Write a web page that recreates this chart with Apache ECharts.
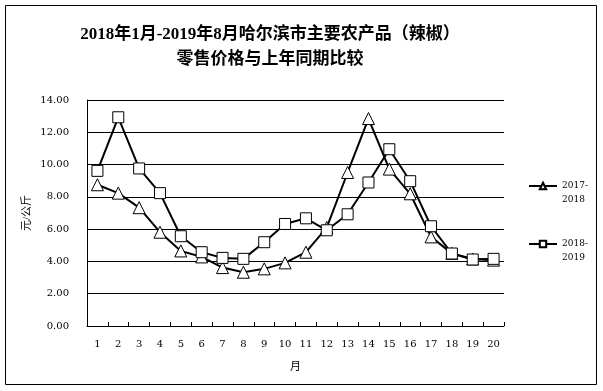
<!DOCTYPE html>
<html>
<head>
<meta charset="utf-8">
<script src="https://cdn.jsdelivr.net/npm/echarts@6/dist/echarts.min.js"></script>
<style>html,body{margin:0;padding:0;background:#fff;}#c{width:603px;height:391px;}</style>
</head>
<body>
<div id="c"></div>
<script>
const months = ['1','2','3','4','5','6','7','8','9','10','11','12','13','14','15','16','17','18','19','20'];
const series2017_2018 = [8.75, 8.23, 7.33, 5.81, 4.65, 4.28, 3.62, 3.33, 3.54, 3.91, 4.57, 6.10, 9.51, 12.85, 9.72, 8.19, 5.52, 4.50, 4.15, 4.08];
const series2018_2019 = [9.61, 12.93, 9.76, 8.23, 5.56, 4.57, 4.22, 4.16, 5.19, 6.32, 6.67, 5.93, 6.92, 8.89, 10.95, 8.97, 6.18, 4.49, 4.12, 4.16];
const seriesNames = ['2017-\n2018', '2018-\n2019'];
const yTicks = { min: 0, max: 14, interval: 2 };

const serif = '"DejaVu Serif", "Liberation Serif", "Noto Sans CJK SC", serif';
const titleFont = '"Liberation Serif", "Noto Sans CJK SC", serif';
const chart = echarts.init(document.getElementById('c'), null, { renderer: 'canvas' });
chart.setOption({
  backgroundColor: '#fff',
  animation: false,
  title: {
    text: '2018年1月-2019年8月哈尔滨市主要农产品（辣椒）\n零售价格与上年同期比较',
    left: 270,
    top: 22,
    padding: 0,
    textAlign: 'center',
    textStyle: { fontFamily: titleFont, fontSize: 17, fontWeight: 'bold', color: '#000', lineHeight: 25 }
  },
  graphic: [{
    type: 'rect',
    shape: { x: 5.5, y: 5.5, width: 591, height: 379 },
    style: { fill: 'none', stroke: '#000', lineWidth: 1 },
    silent: true
  }],
  legend: {
    orient: 'vertical',
    left: 523,
    top: 160,
    itemGap: 16,
    itemWidth: 28,
    itemHeight: 8,
    formatter: name => '\n' + name,
    textStyle: { fontFamily: serif, fontSize: 9, color: '#000', lineHeight: 14 },
    data: seriesNames
  },
  grid: { left: 87, right: 99, top: 100, bottom: 65, containLabel: false },
  xAxis: {
    type: 'category',
    data: months,
    boundaryGap: true,
    name: '月',
    nameLocation: 'middle',
    nameGap: 36,
    nameTextStyle: { fontFamily: titleFont, fontSize: 11, color: '#000' },
    axisLine: { lineStyle: { color: '#000', width: 1 } },
    axisTick: { show: true, inside: true, length: 4, interval: 0, lineStyle: { color: '#000' } },
    axisLabel: { fontFamily: serif, fontSize: 10, color: '#000', margin: 13, interval: 0 }
  },
  yAxis: {
    type: 'value',
    min: yTicks.min,
    max: yTicks.max,
    interval: yTicks.interval,
    name: '元/公斤',
    nameLocation: 'middle',
    nameRotate: 90,
    nameGap: 54,
    nameMoveOverlap: false,
    nameTextStyle: { fontFamily: titleFont, fontSize: 11, color: '#000' },
    axisLine: { show: true, lineStyle: { color: '#000', width: 1 } },
    axisTick: { show: false },
    axisLabel: { fontFamily: serif, fontSize: 10, color: '#000', margin: 18, formatter: v => v.toFixed(2) },
    splitLine: { show: true, lineStyle: { color: '#000', width: 1 } }
  },
  series: [
    {
      name: seriesNames[0],
      type: 'line',
      data: series2017_2018,
      symbol: 'triangle',
      symbolSize: 12,
      showAllSymbol: true,
      lineStyle: { color: '#000', width: 2 },
      itemStyle: { color: '#fff', borderColor: '#000', borderWidth: 1 },
      z: 2
    },
    {
      name: seriesNames[1],
      type: 'line',
      data: series2018_2019,
      symbol: 'rect',
      symbolSize: 11,
      showAllSymbol: true,
      lineStyle: { color: '#000', width: 2 },
      itemStyle: { color: '#fff', borderColor: '#000', borderWidth: 1 },
      z: 3
    }
  ]
});
</script>
</body>
</html>
